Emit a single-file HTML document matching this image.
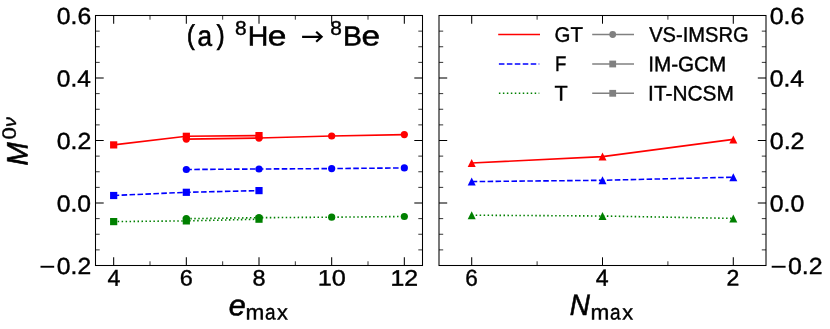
<!DOCTYPE html>
<html><head><meta charset="utf-8"><title>chart</title>
<style>
html,body{margin:0;padding:0;background:#fff;}
#wrap{width:830px;height:329px;will-change:transform;transform:translateZ(0);background:#fff;}
svg{display:block;font-family:"Liberation Sans", sans-serif;fill:#000;}
text{stroke:#000;stroke-width:0.4px;text-rendering:geometricPrecision;}
</style></head><body>
<div id="wrap"><svg width="830" height="329" viewBox="0 0 830 329">
<rect x="0" y="0" width="830" height="329" fill="#fff"/>
<line x1="113.67" y1="15.50" x2="113.67" y2="23.70" stroke="#000" stroke-width="1.05"/>
<line x1="113.67" y1="265.50" x2="113.67" y2="257.30" stroke="#000" stroke-width="1.05"/>
<line x1="186.33" y1="15.50" x2="186.33" y2="23.70" stroke="#000" stroke-width="1.05"/>
<line x1="186.33" y1="265.50" x2="186.33" y2="257.30" stroke="#000" stroke-width="1.05"/>
<line x1="259.00" y1="15.50" x2="259.00" y2="23.70" stroke="#000" stroke-width="1.05"/>
<line x1="259.00" y1="265.50" x2="259.00" y2="257.30" stroke="#000" stroke-width="1.05"/>
<line x1="331.67" y1="15.50" x2="331.67" y2="23.70" stroke="#000" stroke-width="1.05"/>
<line x1="331.67" y1="265.50" x2="331.67" y2="257.30" stroke="#000" stroke-width="1.05"/>
<line x1="404.33" y1="15.50" x2="404.33" y2="23.70" stroke="#000" stroke-width="1.05"/>
<line x1="404.33" y1="265.50" x2="404.33" y2="257.30" stroke="#000" stroke-width="1.05"/>
<line x1="150.00" y1="15.50" x2="150.00" y2="19.70" stroke="#000" stroke-width="0.8"/>
<line x1="150.00" y1="265.50" x2="150.00" y2="261.30" stroke="#000" stroke-width="0.8"/>
<line x1="222.67" y1="15.50" x2="222.67" y2="19.70" stroke="#000" stroke-width="0.8"/>
<line x1="222.67" y1="265.50" x2="222.67" y2="261.30" stroke="#000" stroke-width="0.8"/>
<line x1="295.33" y1="15.50" x2="295.33" y2="19.70" stroke="#000" stroke-width="0.8"/>
<line x1="295.33" y1="265.50" x2="295.33" y2="261.30" stroke="#000" stroke-width="0.8"/>
<line x1="368.00" y1="15.50" x2="368.00" y2="19.70" stroke="#000" stroke-width="0.8"/>
<line x1="368.00" y1="265.50" x2="368.00" y2="261.30" stroke="#000" stroke-width="0.8"/>
<line x1="95.50" y1="31.13" x2="99.70" y2="31.13" stroke="#000" stroke-width="0.8"/>
<line x1="422.50" y1="31.13" x2="418.30" y2="31.13" stroke="#000" stroke-width="0.8"/>
<line x1="95.50" y1="46.75" x2="99.70" y2="46.75" stroke="#000" stroke-width="0.8"/>
<line x1="422.50" y1="46.75" x2="418.30" y2="46.75" stroke="#000" stroke-width="0.8"/>
<line x1="95.50" y1="62.38" x2="99.70" y2="62.38" stroke="#000" stroke-width="0.8"/>
<line x1="422.50" y1="62.38" x2="418.30" y2="62.38" stroke="#000" stroke-width="0.8"/>
<line x1="95.50" y1="78.00" x2="103.70" y2="78.00" stroke="#000" stroke-width="1.05"/>
<line x1="422.50" y1="78.00" x2="414.30" y2="78.00" stroke="#000" stroke-width="1.05"/>
<line x1="95.50" y1="93.62" x2="99.70" y2="93.62" stroke="#000" stroke-width="0.8"/>
<line x1="422.50" y1="93.62" x2="418.30" y2="93.62" stroke="#000" stroke-width="0.8"/>
<line x1="95.50" y1="109.25" x2="99.70" y2="109.25" stroke="#000" stroke-width="0.8"/>
<line x1="422.50" y1="109.25" x2="418.30" y2="109.25" stroke="#000" stroke-width="0.8"/>
<line x1="95.50" y1="124.88" x2="99.70" y2="124.88" stroke="#000" stroke-width="0.8"/>
<line x1="422.50" y1="124.88" x2="418.30" y2="124.88" stroke="#000" stroke-width="0.8"/>
<line x1="95.50" y1="140.50" x2="103.70" y2="140.50" stroke="#000" stroke-width="1.05"/>
<line x1="422.50" y1="140.50" x2="414.30" y2="140.50" stroke="#000" stroke-width="1.05"/>
<line x1="95.50" y1="156.12" x2="99.70" y2="156.12" stroke="#000" stroke-width="0.8"/>
<line x1="422.50" y1="156.12" x2="418.30" y2="156.12" stroke="#000" stroke-width="0.8"/>
<line x1="95.50" y1="171.75" x2="99.70" y2="171.75" stroke="#000" stroke-width="0.8"/>
<line x1="422.50" y1="171.75" x2="418.30" y2="171.75" stroke="#000" stroke-width="0.8"/>
<line x1="95.50" y1="187.38" x2="99.70" y2="187.38" stroke="#000" stroke-width="0.8"/>
<line x1="422.50" y1="187.38" x2="418.30" y2="187.38" stroke="#000" stroke-width="0.8"/>
<line x1="95.50" y1="203.00" x2="103.70" y2="203.00" stroke="#000" stroke-width="1.05"/>
<line x1="422.50" y1="203.00" x2="414.30" y2="203.00" stroke="#000" stroke-width="1.05"/>
<line x1="95.50" y1="218.62" x2="99.70" y2="218.62" stroke="#000" stroke-width="0.8"/>
<line x1="422.50" y1="218.62" x2="418.30" y2="218.62" stroke="#000" stroke-width="0.8"/>
<line x1="95.50" y1="234.25" x2="99.70" y2="234.25" stroke="#000" stroke-width="0.8"/>
<line x1="422.50" y1="234.25" x2="418.30" y2="234.25" stroke="#000" stroke-width="0.8"/>
<line x1="95.50" y1="249.88" x2="99.70" y2="249.88" stroke="#000" stroke-width="0.8"/>
<line x1="422.50" y1="249.88" x2="418.30" y2="249.88" stroke="#000" stroke-width="0.8"/>
<rect x="95.50" y="15.50" width="327.00" height="250.00" fill="none" stroke="#000" stroke-width="1.05"/>
<line x1="471.70" y1="15.50" x2="471.70" y2="23.70" stroke="#000" stroke-width="1.05"/>
<line x1="471.70" y1="265.50" x2="471.70" y2="257.30" stroke="#000" stroke-width="1.05"/>
<line x1="602.50" y1="15.50" x2="602.50" y2="23.70" stroke="#000" stroke-width="1.05"/>
<line x1="602.50" y1="265.50" x2="602.50" y2="257.30" stroke="#000" stroke-width="1.05"/>
<line x1="733.30" y1="15.50" x2="733.30" y2="23.70" stroke="#000" stroke-width="1.05"/>
<line x1="733.30" y1="265.50" x2="733.30" y2="257.30" stroke="#000" stroke-width="1.05"/>
<line x1="537.10" y1="15.50" x2="537.10" y2="19.70" stroke="#000" stroke-width="0.8"/>
<line x1="537.10" y1="265.50" x2="537.10" y2="261.30" stroke="#000" stroke-width="0.8"/>
<line x1="667.90" y1="15.50" x2="667.90" y2="19.70" stroke="#000" stroke-width="0.8"/>
<line x1="667.90" y1="265.50" x2="667.90" y2="261.30" stroke="#000" stroke-width="0.8"/>
<line x1="439.00" y1="31.13" x2="443.20" y2="31.13" stroke="#000" stroke-width="0.8"/>
<line x1="766.00" y1="31.13" x2="761.80" y2="31.13" stroke="#000" stroke-width="0.8"/>
<line x1="439.00" y1="46.75" x2="443.20" y2="46.75" stroke="#000" stroke-width="0.8"/>
<line x1="766.00" y1="46.75" x2="761.80" y2="46.75" stroke="#000" stroke-width="0.8"/>
<line x1="439.00" y1="62.38" x2="443.20" y2="62.38" stroke="#000" stroke-width="0.8"/>
<line x1="766.00" y1="62.38" x2="761.80" y2="62.38" stroke="#000" stroke-width="0.8"/>
<line x1="439.00" y1="78.00" x2="447.20" y2="78.00" stroke="#000" stroke-width="1.05"/>
<line x1="766.00" y1="78.00" x2="757.80" y2="78.00" stroke="#000" stroke-width="1.05"/>
<line x1="439.00" y1="93.62" x2="443.20" y2="93.62" stroke="#000" stroke-width="0.8"/>
<line x1="766.00" y1="93.62" x2="761.80" y2="93.62" stroke="#000" stroke-width="0.8"/>
<line x1="439.00" y1="109.25" x2="443.20" y2="109.25" stroke="#000" stroke-width="0.8"/>
<line x1="766.00" y1="109.25" x2="761.80" y2="109.25" stroke="#000" stroke-width="0.8"/>
<line x1="439.00" y1="124.88" x2="443.20" y2="124.88" stroke="#000" stroke-width="0.8"/>
<line x1="766.00" y1="124.88" x2="761.80" y2="124.88" stroke="#000" stroke-width="0.8"/>
<line x1="439.00" y1="140.50" x2="447.20" y2="140.50" stroke="#000" stroke-width="1.05"/>
<line x1="766.00" y1="140.50" x2="757.80" y2="140.50" stroke="#000" stroke-width="1.05"/>
<line x1="439.00" y1="156.12" x2="443.20" y2="156.12" stroke="#000" stroke-width="0.8"/>
<line x1="766.00" y1="156.12" x2="761.80" y2="156.12" stroke="#000" stroke-width="0.8"/>
<line x1="439.00" y1="171.75" x2="443.20" y2="171.75" stroke="#000" stroke-width="0.8"/>
<line x1="766.00" y1="171.75" x2="761.80" y2="171.75" stroke="#000" stroke-width="0.8"/>
<line x1="439.00" y1="187.38" x2="443.20" y2="187.38" stroke="#000" stroke-width="0.8"/>
<line x1="766.00" y1="187.38" x2="761.80" y2="187.38" stroke="#000" stroke-width="0.8"/>
<line x1="439.00" y1="203.00" x2="447.20" y2="203.00" stroke="#000" stroke-width="1.05"/>
<line x1="766.00" y1="203.00" x2="757.80" y2="203.00" stroke="#000" stroke-width="1.05"/>
<line x1="439.00" y1="218.62" x2="443.20" y2="218.62" stroke="#000" stroke-width="0.8"/>
<line x1="766.00" y1="218.62" x2="761.80" y2="218.62" stroke="#000" stroke-width="0.8"/>
<line x1="439.00" y1="234.25" x2="443.20" y2="234.25" stroke="#000" stroke-width="0.8"/>
<line x1="766.00" y1="234.25" x2="761.80" y2="234.25" stroke="#000" stroke-width="0.8"/>
<line x1="439.00" y1="249.88" x2="443.20" y2="249.88" stroke="#000" stroke-width="0.8"/>
<line x1="766.00" y1="249.88" x2="761.80" y2="249.88" stroke="#000" stroke-width="0.8"/>
<rect x="439.00" y="15.50" width="327.00" height="250.00" fill="none" stroke="#000" stroke-width="1.05"/>
<polyline points="186.33,139.10 259.00,138.05 331.67,136.00 404.33,134.60" fill="none" stroke="#ff0000" stroke-width="1.6"/>
<circle cx="186.33" cy="139.10" r="3.60" fill="#ff0000"/>
<circle cx="259.00" cy="138.05" r="3.60" fill="#ff0000"/>
<circle cx="331.67" cy="136.00" r="3.60" fill="#ff0000"/>
<circle cx="404.33" cy="134.60" r="3.60" fill="#ff0000"/>
<polyline points="186.33,169.50 259.00,169.00 331.67,168.60 404.33,167.90" fill="none" stroke="#0000ff" stroke-width="1.6" stroke-dasharray="5.55 2.4"/>
<circle cx="186.33" cy="169.50" r="3.60" fill="#0000ff"/>
<circle cx="259.00" cy="169.00" r="3.60" fill="#0000ff"/>
<circle cx="331.67" cy="168.60" r="3.60" fill="#0000ff"/>
<circle cx="404.33" cy="167.90" r="3.60" fill="#0000ff"/>
<polyline points="186.33,218.70 259.00,217.70 331.67,217.20 404.33,216.50" fill="none" stroke="#008000" stroke-width="1.6" stroke-dasharray="1.5 2.475"/>
<circle cx="186.33" cy="218.70" r="3.60" fill="#008000"/>
<circle cx="259.00" cy="217.70" r="3.60" fill="#008000"/>
<circle cx="331.67" cy="217.20" r="3.60" fill="#008000"/>
<circle cx="404.33" cy="216.50" r="3.60" fill="#008000"/>
<polyline points="113.67,144.90 186.33,136.30 259.00,135.60" fill="none" stroke="#ff0000" stroke-width="1.6"/>
<rect x="110.07" y="141.30" width="7.20" height="7.20" fill="#ff0000"/>
<rect x="182.73" y="132.70" width="7.20" height="7.20" fill="#ff0000"/>
<rect x="255.40" y="132.00" width="7.20" height="7.20" fill="#ff0000"/>
<polyline points="113.67,195.50 186.33,192.30 259.00,190.60" fill="none" stroke="#0000ff" stroke-width="1.6" stroke-dasharray="5.55 2.4"/>
<rect x="110.07" y="191.90" width="7.20" height="7.20" fill="#0000ff"/>
<rect x="182.73" y="188.70" width="7.20" height="7.20" fill="#0000ff"/>
<rect x="255.40" y="187.00" width="7.20" height="7.20" fill="#0000ff"/>
<polyline points="113.67,221.60 186.33,220.90 259.00,219.20" fill="none" stroke="#008000" stroke-width="1.6" stroke-dasharray="1.5 2.475"/>
<rect x="110.07" y="218.00" width="7.20" height="7.20" fill="#008000"/>
<rect x="182.73" y="217.30" width="7.20" height="7.20" fill="#008000"/>
<rect x="255.40" y="215.60" width="7.20" height="7.20" fill="#008000"/>
<polyline points="471.70,163.00 602.50,156.60 733.30,139.40" fill="none" stroke="#ff0000" stroke-width="1.6"/>
<polygon points="471.70,159.00 467.70,167.00 475.70,167.00" fill="#ff0000"/>
<polygon points="602.50,152.60 598.50,160.60 606.50,160.60" fill="#ff0000"/>
<polygon points="733.30,135.40 729.30,143.40 737.30,143.40" fill="#ff0000"/>
<polyline points="471.70,181.60 602.50,180.30 733.30,177.20" fill="none" stroke="#0000ff" stroke-width="1.6" stroke-dasharray="5.55 2.4"/>
<polygon points="471.70,177.60 467.70,185.60 475.70,185.60" fill="#0000ff"/>
<polygon points="602.50,176.30 598.50,184.30 606.50,184.30" fill="#0000ff"/>
<polygon points="733.30,173.20 729.30,181.20 737.30,181.20" fill="#0000ff"/>
<polyline points="471.70,215.20 602.50,216.00 733.30,218.40" fill="none" stroke="#008000" stroke-width="1.6" stroke-dasharray="1.5 2.475"/>
<polygon points="471.70,211.20 467.70,219.20 475.70,219.20" fill="#008000"/>
<polygon points="602.50,212.00 598.50,220.00 606.50,220.00" fill="#008000"/>
<polygon points="733.30,214.40 729.30,222.40 737.30,222.40" fill="#008000"/>
<text transform="translate(56.81,23.92) rotate(0.05) scale(1.0650,1)" font-size="23.24">0.6</text>
<text transform="translate(769.70,23.92) rotate(0.05) scale(1.0749,1)" font-size="23.24">0.6</text>
<text transform="translate(56.82,86.42) rotate(0.05) scale(1.0529,1)" font-size="23.24">0.4</text>
<text transform="translate(769.71,86.42) rotate(0.05) scale(1.0627,1)" font-size="23.24">0.4</text>
<text transform="translate(56.81,148.92) rotate(0.05) scale(1.0691,1)" font-size="23.24">0.2</text>
<text transform="translate(769.70,148.92) rotate(0.05) scale(1.0791,1)" font-size="23.24">0.2</text>
<text transform="translate(56.81,211.42) rotate(0.05) scale(1.0610,1)" font-size="23.24">0.0</text>
<text transform="translate(769.70,211.42) rotate(0.05) scale(1.0708,1)" font-size="23.24">0.0</text>
<text transform="translate(56.81,273.92) rotate(0.05) scale(1.0625,1)" font-size="23.24">0.2</text>
<text transform="translate(787.90,273.92) rotate(0.05) scale(1.0724,1)" font-size="23.24">0.2</text>
<line x1="40.50" y1="266.75" x2="54.20" y2="266.75" stroke="#000" stroke-width="1.9"/>
<line x1="771.70" y1="266.75" x2="785.60" y2="266.75" stroke="#000" stroke-width="1.9"/>
<text transform="translate(107.39,285.70) rotate(0.05) scale(1.0058,1)" font-size="23.07">4</text>
<text transform="translate(179.86,285.48) rotate(0.05) scale(1.0550,1)" font-size="22.25">6</text>
<text transform="translate(252.55,285.48) rotate(0.05) scale(1.0517,1)" font-size="22.25">8</text>
<text transform="translate(317.70,285.48) rotate(0.05) scale(1.1369,1)" font-size="22.25">10</text>
<text transform="translate(390.43,285.70) rotate(0.05) scale(1.1020,1)" font-size="22.57">12</text>
<text transform="translate(465.37,285.67) rotate(0.05) scale(0.9848,1)" font-size="22.96">6</text>
<text transform="translate(595.82,285.70) rotate(0.05) scale(0.9995,1)" font-size="23.21">4</text>
<text transform="translate(726.60,285.50) rotate(0.05) scale(1.0289,1)" font-size="22.43">2</text>
<text transform="translate(228.73,315.21) rotate(0.05) scale(1.0394,1)" font-size="29.36" font-style="italic" style="stroke-width:0.6px">e</text>
<text transform="translate(245.43,319.40) rotate(0.05) scale(1.0593,1)" font-size="21.31">m</text>
<text transform="translate(264.94,319.48) rotate(0.05) scale(0.8784,1)" font-size="21.65">a</text>
<text transform="translate(277.07,319.40) rotate(0.05) scale(1.0270,1)" font-size="21.13">x</text>
<text transform="translate(590.53,319.40) rotate(0.05) scale(1.0593,1)" font-size="21.31">m</text>
<text transform="translate(610.04,319.48) rotate(0.05) scale(0.8784,1)" font-size="21.65">a</text>
<text transform="translate(622.17,319.40) rotate(0.05) scale(1.0270,1)" font-size="21.13">x</text>
<text transform="translate(569.87,315.00) rotate(0.05) scale(0.9436,1)" font-size="29.49" font-style="italic" style="stroke-width:0.6px">N</text>
<g transform="rotate(-90)">
<text transform="translate(-165.44,27.60) rotate(0.05) scale(0.9429,1)" font-size="29.56" font-style="italic" style="stroke-width:0.6px">M</text>
<text transform="translate(-139.48,15.81) rotate(0.05) scale(1.1456,1)" font-size="19.30">0</text>
<text transform="translate(-126.89,16.00) rotate(0.05) scale(1.0918,1)" font-size="18.11" font-style="italic">ν</text>
</g>
<text transform="translate(186.92,44.18) rotate(0.05) scale(0.8395,1)" font-size="27.42" style="stroke-width:0.8px">(</text>
<text transform="translate(197.50,45.64) rotate(0.05) scale(0.9058,1)" font-size="28.90" style="stroke-width:0.55px">a</text>
<text transform="translate(216.67,44.18) rotate(0.05) scale(0.8557,1)" font-size="27.42" style="stroke-width:0.8px">)</text>
<text transform="translate(234.96,34.70) rotate(0.05) scale(1.0499,1)" font-size="19.86">8</text>
<text transform="translate(247.80,45.43) rotate(0.05) scale(1.0350,1)" font-size="27.52" style="stroke-width:0.55px">H</text>
<text transform="translate(267.87,45.54) rotate(0.05) scale(1.1873,1)" font-size="28.17" style="stroke-width:0.55px">e</text>
<path d="M302.1 36.8 H321.5 M316.2 31.8 L321.6 36.8 L316.2 41.8" fill="none" stroke="#000" stroke-width="2.2" stroke-linejoin="miter"/>
<text transform="translate(330.26,34.70) rotate(0.05) scale(1.0499,1)" font-size="19.86">8</text>
<text transform="translate(342.91,45.43) rotate(0.05) scale(1.0291,1)" font-size="27.52" style="stroke-width:0.55px">B</text>
<text transform="translate(361.38,45.54) rotate(0.05) scale(1.1797,1)" font-size="28.17" style="stroke-width:0.55px">e</text>
<line x1="498.2" y1="34.5" x2="540.0" y2="34.5" stroke="#ff0000" stroke-width="1.6"/>
<line x1="498.9" y1="64.0" x2="539.3" y2="64.0" stroke="#0000ff" stroke-width="1.6" stroke-dasharray="5.55 2.4"/>
<line x1="498.9" y1="93.3" x2="539.3" y2="93.3" stroke="#008000" stroke-width="1.6" stroke-dasharray="1.5 2.475"/>
<text transform="translate(554.48,41.69) rotate(0.05) scale(0.9748,1)" font-size="20.99">GT</text>
<text transform="translate(554.91,71.10) rotate(0.05) scale(0.8834,1)" font-size="21.02">F</text>
<text transform="translate(554.46,100.50) rotate(0.05) scale(1.0201,1)" font-size="21.17">T</text>
<line x1="592.2" y1="34.5" x2="634.0" y2="34.5" stroke="#808080" stroke-width="1.6"/>
<circle cx="612.70" cy="34.50" r="3.40" fill="#808080"/>
<line x1="592.2" y1="64.0" x2="634.0" y2="64.0" stroke="#808080" stroke-width="1.6"/>
<rect x="609.30" y="60.60" width="6.80" height="6.80" fill="#808080"/>
<line x1="592.2" y1="93.3" x2="634.0" y2="93.3" stroke="#808080" stroke-width="1.6"/>
<rect x="609.30" y="89.90" width="6.80" height="6.80" fill="#808080"/>
<text transform="translate(649.20,41.69) rotate(0.05) scale(0.9579,1)" font-size="20.99">VS-IMSRG</text>
<text transform="translate(648.14,71.19) rotate(0.05) scale(0.9861,1)" font-size="20.99">IM-GCM</text>
<text transform="translate(648.12,100.49) rotate(0.05) scale(0.9929,1)" font-size="20.99">IT-NCSM</text>
</svg></div>
</body></html>
